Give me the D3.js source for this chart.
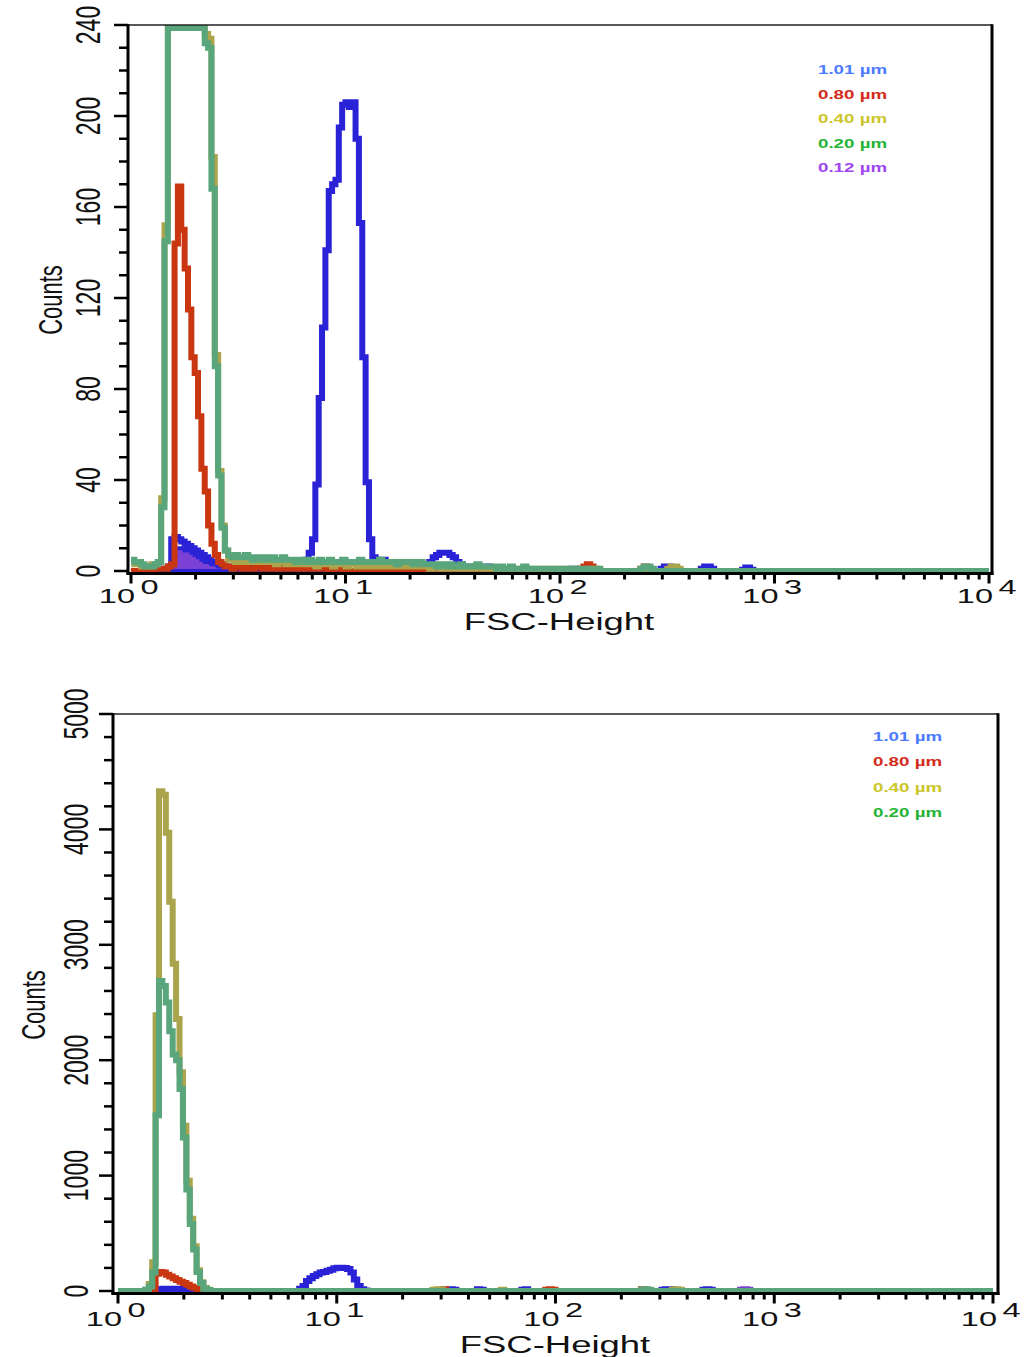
<!DOCTYPE html>
<html>
<head>
<meta charset="utf-8">
<script src="https://cdn.jsdelivr.net/npm/d3@7"></script>
<style>
  body { margin: 0; background: #fff; }
  svg { display: block; }
  text { font-family: "Liberation Sans", Arial, sans-serif; }
</style>
</head>
<body>
<svg id="fig" width="1026" height="1357"></svg>
<script>
// FSC-Height histograms: 256 channels spread over 4 log decades (64 channels/decade).
const CH_PER_DEC = 64;
const N_CH = 256;

// Legend entries (bead sizes) and tick values
const legendTop = ["1.01 µm", "0.80 µm", "0.40 µm", "0.20 µm", "0.12 µm"];
const legendBottom = ["1.01 µm", "0.80 µm", "0.40 µm", "0.20 µm"];
const yTicksTop = [0, 40, 80, 120, 160, 200, 240];
const yTicksBottom = [0, 1000, 2000, 3000, 4000, 5000];
const xDecades = [0, 1, 2, 3, 4];

// Histogram counts stored as runs: [first channel, [counts...]]; channels not listed are 0.
// ---- upper panel ----
const topBlue = [
  [0, [0,0,0,0,0,0,0,0,1,1,1,2]],
  [12, [14,15,14,13,12,11,10,9,8,7, 6,5,4,4,3,3,2,2,2,2, 2,2,1,2,2,2,1,2,2,2, 2,2,2,2,3,3,3,3,4,4, 5]],
  [53, [8,14,38,76,107,141,167,170,172,195,205,206,204,206,190,153,94,39,14,6,4]],
  [74, [5,5,4,4,3,3,3,2,2,3,2,2,2,3,3,4,6,7,8,8,8,7,6,4,3,2,2,2,1,2,1,1,2,1,1,1]],
  [131, [1,1]],
  [158, [1,2,2,1]],
  [170, [1,2,2,1]]
];
const topRed = [
  [0, [0,0,0,0,0,0,0,1,1,1,1,2,3]],
  [13, [144,169,150,133,115,94,87,68,45,35,20,12,7,4,3]],
  [28, [2,2,1,2,2,1,2,1,1,2, 2,1,1,2,1,1,2,1,1,1, 1,2,1,1,1,1,1,1,1,1, 1,0,1,1,1]],
  [100, [1,1,0,1]],
  [134, [1,2,3,2,1]],
  [152, [1,2,1]]
];
const topOlive = [
  [0, [4,3,3,2,2,2,3,3,4,32,152,300,370,430,470,480,460,430,390,340,300,262,236,234,182,95,44,20,9]],
  [29, [5,5,4,5,4,5,4,4,4,5,4,4,4,4,3,4,4,3,4,
        3,3,3,4,3,3,3,2,3,3, 3,3,2,3,3,3,2,3,3,2, 3,2,3,2,2,3,2,2,3,2, 2,2,2,3,2,2,2,2,2,2,
        2,1,2,2,1,2,1,2,1,1, 2,1,1,1,2,1,1,1,1,1,
        1,1,0,1,1,0,1,0,1,1, 0,1,0,0,1,0,0,1,0,0, 1,0,0,0,1,0,0,0,0,1, 0,0,0]],
  [160, [1,2,2,1]]
];
const topGreen = [
  [0, [5,4,4,3,2,2,2,3,4,28,145,290,360,420,460,470,450,420,380,330,290,255,232,230,168,90,42,19,9]],
  [29, [7,6,7,6,6,7,6,5,6,6,5,6,5,6,5,5,6,5,5,
        5,4,5,5,4,5,4,4,5,4, 4,5,4,4,4,5,4,4,4,4, 5,4,4,4,4,4,5,4,4,4, 4,3,4,4,4,4,3,4,4,3,
        3,3,3,2,3,3,2,3,2,2, 3,2,2,2,2,3,2,2,2,2,
        2,1,2,1,1,2,1,1,1,2, 1,1,1,1,1,1,1,1,1,0, 1,1,0,1,1,0,1,0,1,0, 0,1,0]],
  [152, [1,2,2,1]]
];
const topPurple = [
  [11, [2,9,10,10,10,9,9,8,7,6,5,4,4,3,3,2,2,2,1,1,1,1,1,1,1]],
  [182, [1,2,2,1]]
];

// ---- lower panel ----
const bottomBlue = [
  [12, [15,20,20,20,20,20,20,18,15,10,8,5]],
  [53, [20,43,87,110,130,145,160,165,175,185,198,202,202,200,190,160,100,43,15,5]],
  [96, [10,15,10]],
  [105, [15,10]],
  [118, [10,15]],
  [159, [10,15,15,10]],
  [171, [10,15,10]]
];
const bottomRed = [
  [10, [5,150,165,160,140,125,110,95,80,70,55,40,28,15,6]],
  [94, [10,15]],
  [125, [10,15,10]],
  [153, [15,10]]
];
const bottomOlive = [
  [8, [10,60,250,2390,4330,4300,3970,3373,2836,2358,1895,1433,955,627,388,179,75,25,10]],
  [92, [10,15,10]],
  [112, [10]],
  [162, [10,15,10]]
];
const bottomGreen = [
  [8, [10,40,160,1522,2687,2642,2500,2250,2050,2000,1750,1330,880,580,360,165,70,20,8]],
  [153, [10,15,10]]
];
const bottomPurple = [
  [182, [10,15,10]]
];

// ---- styling ----
const COL = {
  blue: "#2a22d6", red: "#c9360f", olive: "#aaa54c", green: "#59a57c", purple: "#7b40d4"
};
const legendColors = ["#4d7bff", "#d42b1b", "#cbc62a", "#26b436", "#9f45f2"];

function expand(runs) {
  const a = new Array(N_CH).fill(0);
  runs.forEach(([s, vals]) => vals.forEach((v, i) => { a[s + i] = v; }));
  return a;
}

const panels = [
  {
    series: [
      { runs: topPurple, color: COL.blue, fill: COL.purple },
      { runs: topBlue, color: COL.blue },
      { runs: topRed, color: COL.red },
      { runs: topOlive, color: COL.olive },
      { runs: topGreen, color: COL.green }
    ],
    yMax: 240, yMajor: yTicksTop, yMinorStep: 10,
    frame: { left: 128, right: 992, top: 25, bottom: 573.5 },
    plot: { x0: 131, x1: 989, y0: 571, y1: 25 },
    tickLabelX: 100, countsPos: [62, 300], titlePos: [559, 630],
    legend: legendTop, legendPos: [818, 74, 24.5], expBaseY: 603
  },
  {
    series: [
      { runs: bottomPurple, color: COL.purple },
      { runs: bottomBlue, color: COL.blue },
      { runs: bottomRed, color: COL.red },
      { runs: bottomOlive, color: COL.olive },
      { runs: bottomGreen, color: COL.green }
    ],
    yMax: 5000, yMajor: yTicksBottom, yMinorStep: 200,
    frame: { left: 113, right: 998, top: 714, bottom: 1293.5 },
    plot: { x0: 118, x1: 993, y0: 1291, y1: 714 },
    tickLabelX: 88, countsPos: [45, 1005], titlePos: [555, 1353],
    legend: legendBottom, legendPos: [873, 741, 25.3], expBaseY: 1326
  }
];

const svg = d3.select("#fig");

panels.forEach(p => {
  const g = svg.append("g");
  const x = d3.scaleLog().domain([1, 1e4]).range([p.plot.x0, p.plot.x1]);
  const y = d3.scaleLinear().domain([0, p.yMax]).range([p.plot.y0, p.plot.y1]);
  const yCap = v => Math.max(y(v), p.plot.y1 + 3);   // off-scale counts ride along the top edge
  const edge = c => Math.pow(10, c / CH_PER_DEC);

  const line = d3.line().x(d => x(d[0])).y(d => yCap(d[1])).curve(d3.curveStepAfter);
  const area = d3.area().x(d => x(d[0])).y0(y(0)).y1(d => yCap(d[1])).curve(d3.curveStepAfter);

  // histograms
  p.series.forEach(s => {
    const counts = expand(s.runs);
    const pts = counts.map((v, c) => [edge(c), v]);
    pts.push([edge(N_CH), counts[N_CH - 1]]);
    if (s.fill) {
      g.append("path").attr("d", area(pts))
        .attr("fill", s.fill).attr("stroke", s.color)
        .attr("stroke-width", 4).attr("stroke-linejoin", "miter");
    } else {
      g.append("path").attr("d", line(pts))
        .attr("fill", "none").attr("stroke", s.color)
        .attr("stroke-width", 6).attr("stroke-linejoin", "miter");
    }
  });

  // frame
  const f = p.frame;
  g.append("line").attr("x1", f.left).attr("x2", f.right).attr("y1", f.top).attr("y2", f.top)
    .attr("stroke", "#222").attr("stroke-width", 1.5);
  g.append("line").attr("x1", f.right).attr("x2", f.right).attr("y1", f.top - 0.75).attr("y2", f.bottom + 1.5)
    .attr("stroke", "#000").attr("stroke-width", 3);
  g.append("line").attr("x1", f.left).attr("x2", f.left).attr("y1", f.top - 0.75).attr("y2", f.bottom + 1.5)
    .attr("stroke", "#000").attr("stroke-width", 3);
  g.append("line").attr("x1", f.left - 1.5).attr("x2", f.right + 1.5).attr("y1", f.bottom).attr("y2", f.bottom)
    .attr("stroke", "#000").attr("stroke-width", 3);

  // y ticks
  const minor = d3.range(0, p.yMax + 1e-9, p.yMinorStep);
  g.selectAll(null).data(minor).join("line")
    .attr("x1", d => f.left - (p.yMajor.includes(d) ? 14 : 9)).attr("x2", f.left)
    .attr("y1", d => y(d)).attr("y2", d => y(d))
    .attr("stroke", "#000").attr("stroke-width", 2.5);

  // y tick labels (rotated)
  g.selectAll(null).data(p.yMajor).join("text")
    .attr("transform", d => `translate(${p.tickLabelX},${y(d)}) scale(1.5,1) rotate(-90)`)
    .attr("text-anchor", "middle").attr("font-size", 23).attr("fill", "#111")
    .text(d => d);

  g.append("text")
    .attr("transform", `translate(${p.countsPos[0]},${p.countsPos[1]}) scale(1.5,1) rotate(-90)`)
    .attr("text-anchor", "middle").attr("font-size", 22).attr("fill", "#111")
    .text("Counts");

  // x ticks: decades long, 2..9 short
  const xt = [];
  xDecades.forEach(k => {
    xt.push({ v: Math.pow(10, k), major: true });
    if (k < 4) for (let m = 2; m <= 9; m++) xt.push({ v: m * Math.pow(10, k), major: false });
  });
  g.selectAll(null).data(xt).join("line")
    .attr("x1", d => x(d.v)).attr("x2", d => x(d.v))
    .attr("y1", f.bottom).attr("y2", d => f.bottom + (d.major ? 10 : 6))
    .attr("stroke", "#000").attr("stroke-width", 3);

  // decade labels 10^k
  xDecades.forEach(k => {
    const lg = g.append("g")
      .attr("transform", `translate(${x(Math.pow(10, k)) + 4},${p.expBaseY}) scale(1.55,1)`);
    lg.append("text").attr("text-anchor", "end").attr("font-size", 21).attr("fill", "#111").text("10");
    lg.append("text").attr("x", 3.5).attr("y", -9).attr("font-size", 21).attr("fill", "#111").text(k);
  });

  g.append("text")
    .attr("transform", `translate(${p.titlePos[0]},${p.titlePos[1]}) scale(1.52,1)`)
    .attr("text-anchor", "middle").attr("font-size", 24).attr("fill", "#111")
    .text("FSC-Height");

  // legend
  p.legend.forEach((t, i) => {
    g.append("text")
      .attr("transform", `translate(${p.legendPos[0]},${p.legendPos[1] + i * p.legendPos[2]}) scale(1.5,1)`)
      .attr("font-size", 12.5).attr("font-weight", "bold").attr("fill", legendColors[i])
      .text(t);
  });
});
</script>
</body>
</html>
